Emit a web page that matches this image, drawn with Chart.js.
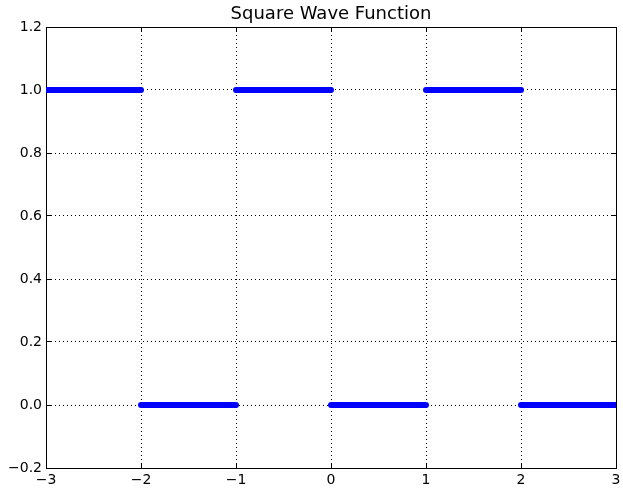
<!DOCTYPE html>
<html>
<head>
<meta charset="utf-8">
<script src="https://cdn.jsdelivr.net/npm/chart.js@4/dist/chart.umd.min.js"></script>
<style>
html,body{margin:0;padding:0;background:#fff;}
canvas{display:block;}
</style>
</head>
<body>
<canvas id="c" width="623" height="488"></canvas>
<script>
// Data: square wave segments
const segStarts = [-3, -2, -1, 0, 1, 2];
const segEnds   = [-2, -1,  0, 1, 2, 3];
const segValues = [ 1,  0,  1, 0, 1, 0];
const xTickValues = [-3, -2, -1, 0, 1, 2, 3];
const xTickLabels = ['\u22123', '\u22122', '\u22121', '0', '1', '2', '3'];
const yTickValues = [-0.2, 0.0, 0.2, 0.4, 0.6, 0.8, 1.0, 1.2];
const yTickLabels = ['\u22120.2', '0.0', '0.2', '0.4', '0.6', '0.8', '1.0', '1.2'];
const titleText = 'Square Wave Function';

const points = [];
segStarts.forEach((s, i) => {
  points.push({x: s, y: segValues[i]});
  points.push({x: segEnds[i], y: segValues[i]});
  if (i < segStarts.length - 1) points.push({x: (s + segEnds[i]) / 2, y: null});
});

function labelFor(values, labels, v) {
  const i = values.findIndex(t => Math.abs(t - v) < 1e-9);
  return i >= 0 ? labels[i] : '';
}

const FONT = {family: 'DejaVu Sans', size: 14};
const dashedGrid = {color: '#000', lineWidth: 1, tickLength: -5, tickColor: '#000', tickWidth: 1};
const noPad = s => { s.paddingLeft = 0; s.paddingRight = 0; s.paddingTop = 0; s.paddingBottom = 0; };

new Chart(document.getElementById('c'), {
  type: 'line',
  data: {
    datasets: [{
      data: points,
      borderColor: '#0000ff',
      backgroundColor: '#0000ff',
      borderWidth: 6,
      borderCapStyle: 'round',
      pointRadius: 0,
      spanGaps: false,
      fill: false,
      clip: 0,
      tension: 0
    }]
  },
  options: {
    responsive: false,
    animation: false,
    devicePixelRatio: 1,
    layout: {padding: {left: 0, right: 7, top: 0, bottom: 0}},
    plugins: {
      legend: {display: false},
      tooltip: {enabled: false},
      title: {
        display: true,
        fullSize: false,
        text: titleText,
        color: '#000',
        font: {family: 'DejaVu Sans', size: 18, weight: 'normal'},
        padding: {top: 4, bottom: 1.4}
      }
    },
    scales: {
      x: {
        type: 'linear', position: 'bottom', min: -3, max: 3, z: 1,
        afterBuildTicks: s => { s.ticks = xTickValues.map(v => ({value: v})); },
        afterFit: s => { s.height = 20; noPad(s); },
        ticks: {
          color: '#000', font: FONT, padding: 9, maxRotation: 0, autoSkip: false,
          callback: v => labelFor(xTickValues, xTickLabels, v)
        },
        grid: dashedGrid,
        border: {display: true, color: '#000', width: 1, dash: [1, 3]}
      },
      x2: {
        type: 'linear', position: 'top', min: -3, max: 3, z: 1,
        afterBuildTicks: s => { s.ticks = xTickValues.map(v => ({value: v})); },
        afterFit: s => { s.height = 0; noPad(s); },
        ticks: {display: false},
        grid: {drawOnChartArea: false, tickLength: -5, tickColor: '#000', color: '#000'},
        border: {display: true, color: '#000', width: 1}
      },
      y: {
        type: 'linear', position: 'left', min: -0.2, max: 1.2, z: 1,
        afterBuildTicks: s => { s.ticks = yTickValues.map(v => ({value: v})); },
        afterFit: s => { s.width = 46; noPad(s); },
        ticks: {
          color: '#000', font: FONT, padding: 9, autoSkip: false,
          callback: v => labelFor(yTickValues, yTickLabels, v)
        },
        grid: dashedGrid,
        border: {display: true, color: '#000', width: 1, dash: [1, 3]}
      },
      y2: {
        type: 'linear', position: 'right', min: -0.2, max: 1.2, z: 1,
        afterBuildTicks: s => { s.ticks = yTickValues.map(v => ({value: v})); },
        afterFit: s => { s.width = 0; noPad(s); },
        ticks: {display: false},
        grid: {drawOnChartArea: false, tickLength: -5, tickColor: '#000', color: '#000'},
        border: {display: true, color: '#000', width: 1}
      }
    }
  }
});
</script>
</body>
</html>
